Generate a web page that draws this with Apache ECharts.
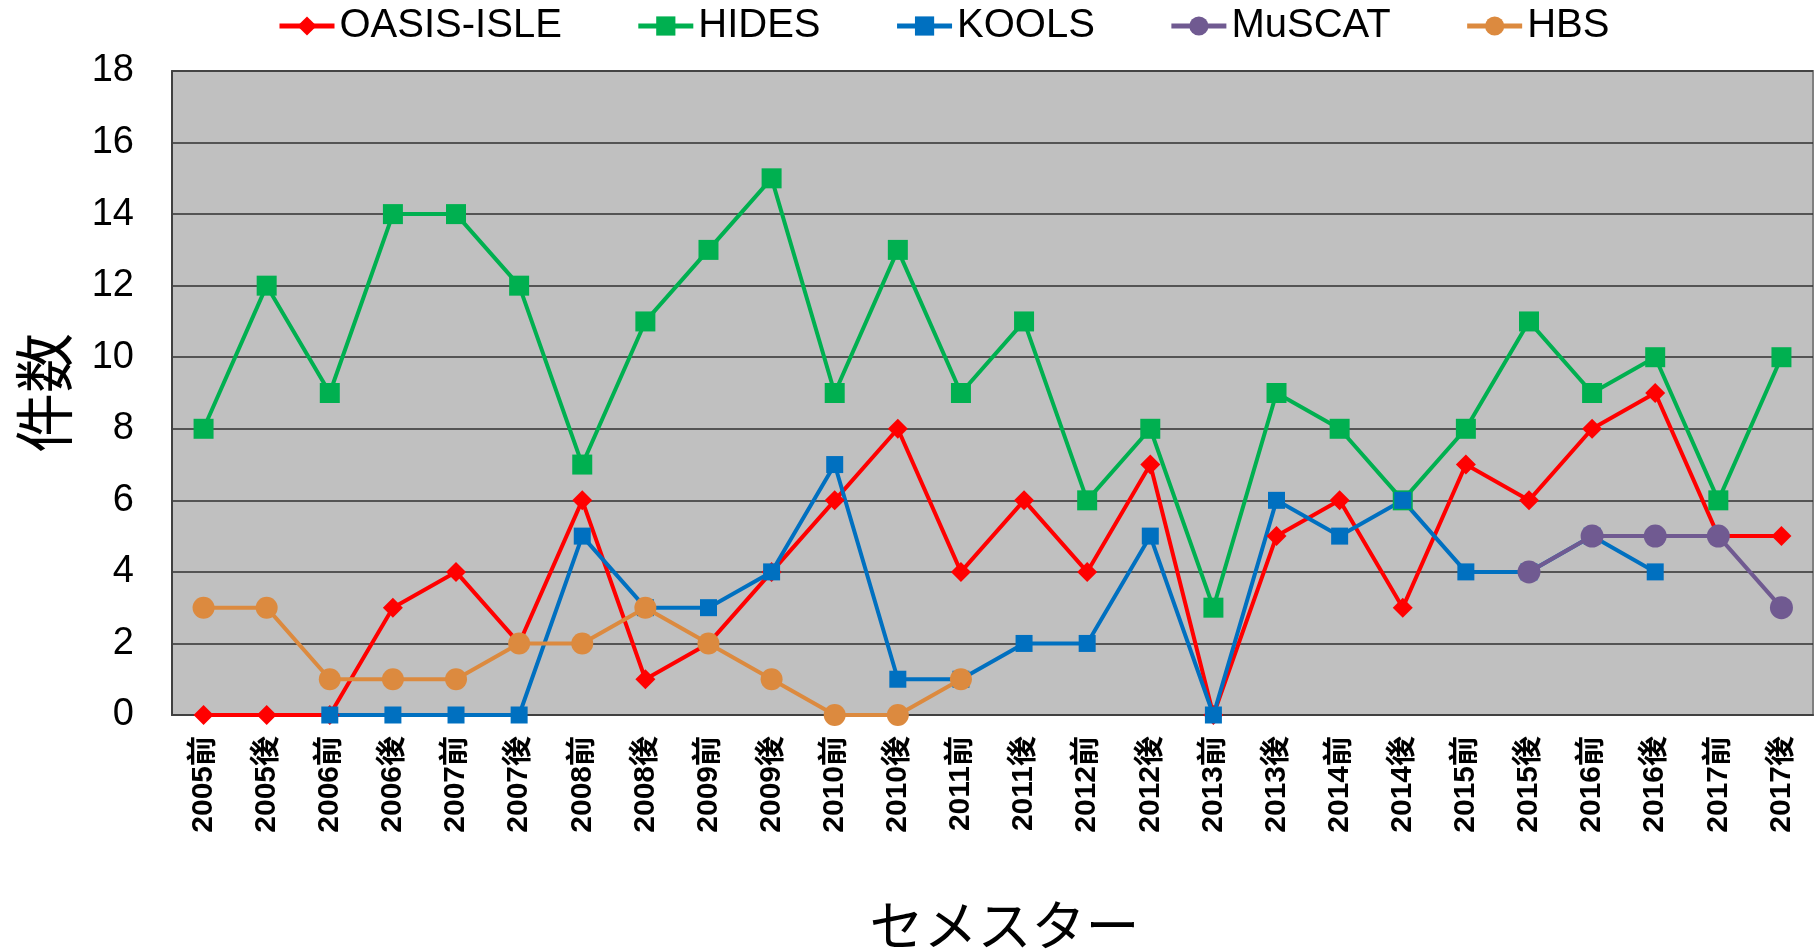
<!DOCTYPE html>
<html>
<head>
<meta charset="utf-8">
<title>セメスター別件数</title>
<script src="https://cdn.jsdelivr.net/npm/echarts@6/dist/echarts.min.js"></script>
<style>
  html, body { margin: 0; padding: 0; background: #fff; }
  #chart { width: 1820px; height: 949px; }
</style>
</head>
<body>
<div id="chart"></div>
<script>
// semesters (前 = first half, 後 = second half)
const semesters = [
  '2005前', '2005後', '2006前', '2006後', '2007前', '2007後',
  '2008前', '2008後', '2009前', '2009後', '2010前', '2010後',
  '2011前', '2011後', '2012前', '2012後', '2013前', '2013後',
  '2014前', '2014後', '2015前', '2015後', '2016前', '2016後',
  '2017前', '2017後'
]

const oasisIsle = [0, 0, 0, 3, 4, 2, 6, 1, 2, 4, 6, 8, 4, 6, 4, 7, 0, 5, 6, 3, 7, 6, 8, 9, 5, 5]
const hides = [8, 12, 9, 14, 14, 12, 7, 11, 13, 15, 9, 13, 9, 11, 6, 8, 3, 9, 8, 6, 8, 11, 9, 10, 6, 10]
const kools = [null, null, 0, 0, 0, 0, 5, 3, 3, 4, 7, 1, 1, 2, 2, 5, 0, 6, 5, 6, 4, 4, 5, 4, null, null]
const muscat = [null, null, null, null, null, null, null, null, null, null, null, null, null,
  null, null, null, null, null, null, null, null, 4, 5, 5, 5, 3]
const hbs = [3, 3, 1, 1, 1, 2, 2, 3, 2, 1, 0, 0, 1, null, null, null, null, null, null,
  null, null, null, null, null, null, null]

const yTicks = [0, 2, 4, 6, 8, 10, 12, 14, 16, 18]

const chart = echarts.init(document.getElementById('chart'))

// helper for one line series
const makeLine = (name, data, color, symbol, size) => ({
  name,
  type: 'line',
  data,
  symbol,
  symbolSize: size,
  showAllSymbol: true,
  connectNulls: false,
  animation: false,
  lineStyle: { width: 4, color },
  itemStyle: { color, borderWidth: 0 }
})

chart.setOption({
  backgroundColor: '#ffffff',
  legend: {
    left: 272,
    top: 1,
    itemWidth: 55,
    itemHeight: 24,
    itemGap: 74,
    lineStyle: { width: 5 },
    textStyle: {
      fontSize: 40,
      fontFamily: 'Liberation Sans, Arial, sans-serif',
      color: '#000'
    }
  },
  grid: {
    left: 172,
    right: 7,
    top: 71,
    bottom: 234,
    outerBoundsMode: 'none',
    show: true,
    backgroundColor: '#C0C0C0',
    borderColor: '#808080',
    borderWidth: 2
  },
  xAxis: {
    type: 'category',
    data: semesters,
    boundaryGap: true,
    name: 'セメスター',
    nameLocation: 'middle',
    nameGap: 183,
    nameTextStyle: {
      fontSize: 54,
      fontFamily: 'Noto Sans CJK JP',
      color: '#000',
      padding: [0, 0, 0, 24]
    },
    axisLine: { lineStyle: { color: '#404040', width: 2 } },
    axisTick: { show: false },
    axisLabel: {
      rotate: 90,
      interval: 0,
      margin: 21,
      fontSize: 30,
      fontWeight: 'bold',
      fontFamily: 'Liberation Sans, Noto Sans CJK JP, sans-serif',
      color: '#000'
    }
  },
  yAxis: {
    type: 'value',
    min: yTicks[0],
    max: yTicks[yTicks.length - 1],
    interval: 2,
    name: '件数',
    nameLocation: 'middle',
    nameRotate: 90,
    nameGap: 98,
    nameTextStyle: {
      fontSize: 60,
      fontFamily: 'Noto Sans CJK JP',
      color: '#000'
    },
    axisLine: { show: true, lineStyle: { color: '#404040', width: 2 } },
    axisTick: { show: false },
    axisLabel: {
      margin: 38,
      fontSize: 38,
      fontFamily: 'Liberation Sans, Arial, sans-serif',
      color: '#000'
    },
    splitLine: { lineStyle: { color: '#303030', width: 1.5 } }
  },
  series: [
    makeLine('OASIS-ISLE', oasisIsle, '#FF0000', 'diamond', 20),
    makeLine('HIDES', hides, '#00B050', 'rect', 20),
    makeLine('KOOLS', kools, '#0070C0', 'rect', 17),
    makeLine('MuSCAT', muscat, '#705A91', 'circle', 23),
    makeLine('HBS', hbs, '#DC8A3F', 'circle', 22)
  ]
})

window.addEventListener('resize', () => {
  chart.resize()
})
</script>
</body>
</html>
